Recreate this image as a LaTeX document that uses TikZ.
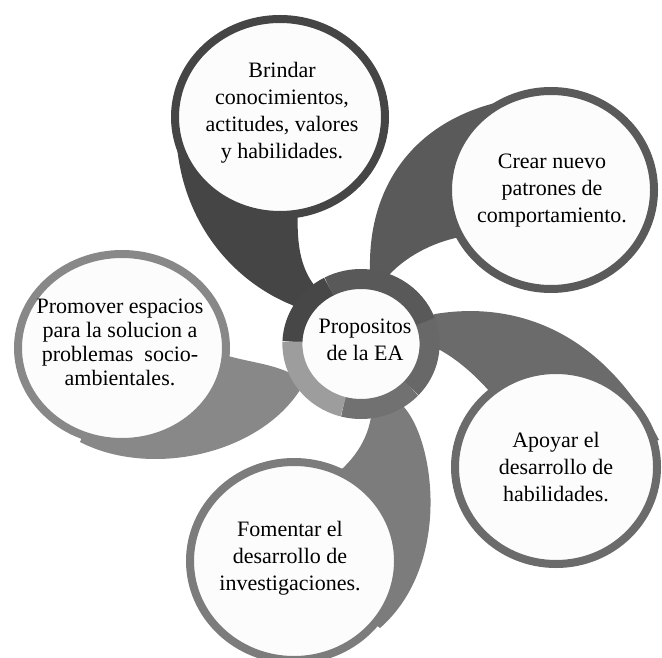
\documentclass[tikz,border=0pt]{standalone}
\usepackage{fontspec}
\setmainfont{Liberation Serif}
\definecolor{shadeA}{HTML}{454545}
\definecolor{shadeB}{HTML}{5A5A5A}
\definecolor{shadeC}{HTML}{6B6B6B}
\definecolor{shadeD}{HTML}{7C7C7C}
\definecolor{shadeE}{HTML}{888888}
\definecolor{ringA}{HTML}{474747}
\definecolor{ringB}{HTML}{595959}
\definecolor{ringC}{HTML}{686868}
\definecolor{ringD}{HTML}{717171}
\definecolor{ringE}{HTML}{9D9D9D}
\definecolor{paper}{HTML}{FCFCFC}
\tikzstyle{bubble}=[line width=4pt, fill=paper]
\tikzstyle{ringpart}=[line width=10pt]
\tikzstyle{bubbletext}=[align=center, inner sep=0pt, font=\fontsize{11}{13.5}\selectfont]

\begin{document}
\begin{tikzpicture}[x=0.5pt, y=-0.5pt]
        \useasboundingbox (0,0) rectangle (662,657);
        \clip (0,0) rectangle (662,657);
        \coordinate (C) at (361,344);
        \coordinate (T1) at (280,117);
        \coordinate (T2) at (551,190);
        \coordinate (T3) at (556,467);
        \coordinate (T4) at (294,561);
        \coordinate (T5) at (122,348);
        \fill[shadeA] (T1) -- (176,120) .. controls (174,215) and (230,280) .. (292,305) -- (C) -- (314,285) .. controls (303,270) and (296,250) .. (298,210) -- cycle;
        \fill[shadeB] (T2) -- (495,103) .. controls (410,125) and (368,190) .. (370,270) -- (C) -- (390,274) .. controls (405,258) and (430,243) .. (460,237) -- cycle;
        \fill[shadeC] (T3) -- (490,392) .. controls (475,375) and (458,360) .. (440,350) -- (C) -- (435,314) .. controls (520,300) and (605,335) .. (659,440) -- cycle;
        \fill[shadeD] (T4) -- (335,475) .. controls (360,455) and (372,430) .. (372,404) -- (C) -- (403,406) .. controls (435,440) and (452,565) .. (380,628) -- cycle;
        \fill[shadeE] (T5) -- (228,356) .. controls (250,362) and (270,364) .. (288,372) -- (C) -- (300,390) .. controls (258,455) and (150,478) .. (80,442) -- cycle;
        \fill[paper] (C) ellipse [x radius=62, y radius=59];
        \foreach \a/\b/\col in {-178/-118/ringA, -118/-20/ringB, -20/43/ringC, 43/105/ringD, 105/182/ringE}
            \draw[ringpart, \col] (C) ++(\a:68.6 and 65) arc[start angle=\a, end angle=\b, x radius=68.6, y radius=65];
        \draw[bubble, draw=shadeA] (T1) ellipse [x radius=105, y radius=98];
        \draw[bubble, draw=shadeB] (T2) ellipse [x radius=103, y radius=99];
        \draw[bubble, draw=shadeC] (T3) ellipse [x radius=101, y radius=97];
        \draw[bubble, draw=shadeD] (T4) ellipse [x radius=104, y radius=99];
        \draw[bubble, draw=shadeE] (T5) ellipse [x radius=104, y radius=94];
        \node[bubbletext] (brindar) at (282,113) {Brindar\\conocimientos,\\actitudes, valores\\y habilidades.};
        \node[bubbletext] (crear) at (552,191) {Crear nuevo\\patrones de\\comportamiento.};
        \node[bubbletext] (apoyar) at (556,467) {Apoyar el\\desarrollo de\\habilidades.};
        \node[bubbletext] (fomentar) at (290,558) {Fomentar el\\desarrollo de\\investigaciones.};
        \node[bubbletext, font=\fontsize{11}{12}\selectfont] (promover) at (120,342) {Promover espacios\\para la solucion a\\problemas~ socio-\\ambientales.};
        \node[bubbletext] (propositos) at (365,340) {Propositos\\de la EA};
\end{tikzpicture}
\end{document}
